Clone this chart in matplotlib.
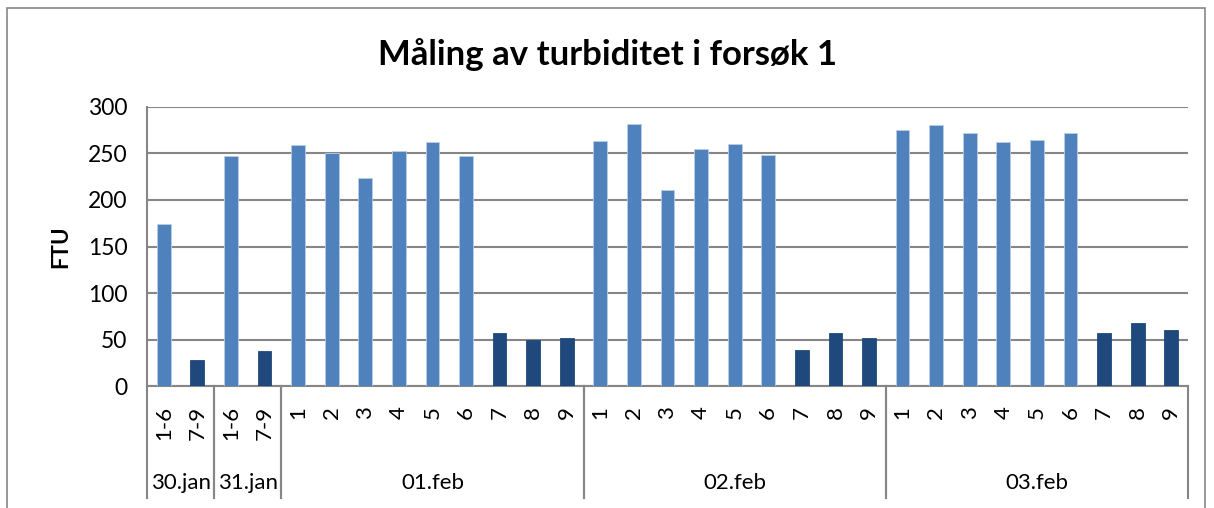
import matplotlib.pyplot as plt
import matplotlib.transforms as mtransforms
from matplotlib.patches import Rectangle

plt.rcParams['font.family'] = ['Lato', 'DejaVu Sans']

# turbidity measurements, one list per day
days = ['30.jan', '31.jan', '01.feb', '02.feb', '03.feb']
samples = [
    ['1-6', '7-9'],
    ['1-6', '7-9'],
    ['1', '2', '3', '4', '5', '6', '7', '8', '9'],
    ['1', '2', '3', '4', '5', '6', '7', '8', '9'],
    ['1', '2', '3', '4', '5', '6', '7', '8', '9'],
]
ftu = [
    [174, 28],
    [247, 38],
    [259, 250, 224, 253, 262, 247, 57, 50, 52],
    [263, 281, 211, 255, 260, 248, 39, 57, 52],
    [275, 280, 272, 262, 264, 272, 57, 68, 60],
]

light = '#4F81BD'
dark = '#1F497D'
grid_col = '#868686'

labels, values, colors = [], [], []
for s, v in zip(samples, ftu):
    for lab, val in zip(s, v):
        labels.append(lab)
        values.append(val)
        colors.append(dark if lab[0] in '789' else light)
x = list(range(len(values)))

fig = plt.figure(figsize=(12.14, 5.08), dpi=100)
ax = fig.add_axes([147 / 1214, 1 - 386.3 / 508, (1188 - 147) / 1214, (386.3 - 106.7) / 508])

ax.bar(x, values, width=0.41, color=colors, edgecolor='#B9CDE5', linewidth=0.6, zorder=3)
# dark bars get an edge of their own colour
for p, c in zip(ax.patches, colors):
    if c == dark:
        p.set_edgecolor(dark)

ax.set_xlim(-0.5, len(values) - 0.5)
ax.set_ylim(0, 300)
ax.set_yticks(range(0, 301, 50))
ax.yaxis.grid(True, color=grid_col, linewidth=1.5, zorder=0)
ax.tick_params(axis='y', length=0, labelsize=16.5, pad=14)
ax.set_xticks(x)
ax.set_xticklabels(labels, fontsize=16)
ax.tick_params(axis='x', length=0, pad=14)
for lab in ax.get_xticklabels():
    lab.set_rotation(90)
    lab.set_va('top')

for side in ['top', 'right']:
    ax.spines[side].set_visible(False)
for side in ['left', 'bottom']:
    ax.spines[side].set_color(grid_col)
    ax.spines[side].set_linewidth(1.5)

ax.set_ylabel('FTU', fontsize=16, fontweight='bold', labelpad=12)
fig.suptitle('Måling av turbiditet i forsøk 1', fontsize=25, fontweight='bold', y=1 - 55 / 508, va='center')

# day separators and day labels below the axis
trans = mtransforms.blended_transform_factory(ax.transData, ax.transAxes)
start = -0.5
for day, s in zip(days, samples):
    end = start + len(s)
    for bx in (start, end):
        ax.plot([bx, bx], [0, -0.40], color=grid_col, linewidth=1.5, transform=trans, clip_on=False)
    ax.text((start + end) / 2, -0.346, day, transform=trans, ha='center', va='center', fontsize=16)
    start = end

# chart frame
fig.patches.append(Rectangle((7 / 1214, -0.1), (1205 - 7) / 1214, 1.1 - 8 / 508, transform=fig.transFigure,
                             fill=False, edgecolor=grid_col, linewidth=1.2))

plt.savefig('out.png')
